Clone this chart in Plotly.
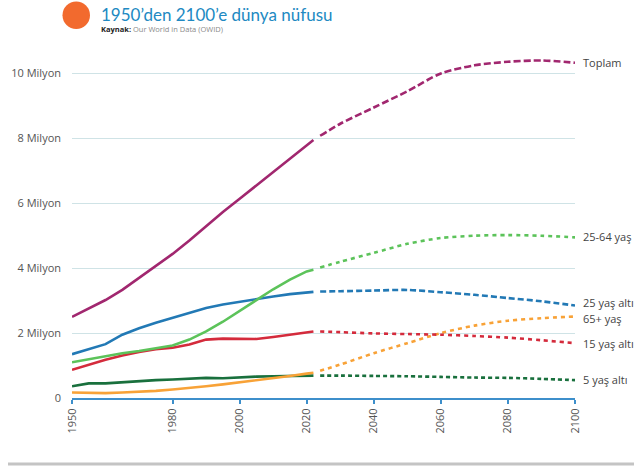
import plotly.graph_objects as go

# ---------------- data ----------------
hist_years = [1950, 1955, 1960, 1965, 1970, 1975, 1980, 1985, 1990, 1995,
              2000, 2005, 2010, 2015, 2020, 2022]
proj_years = [2024, 2030, 2040, 2050, 2060, 2070, 2080, 2090, 2100]

toplam_hist = [2.5, 2.75, 3.02, 3.33, 3.70, 4.07, 4.44, 4.85, 5.30, 5.73,
               6.14, 6.55, 6.96, 7.38, 7.80, 7.95]
toplam_proj = [8.08, 8.45, 8.95, 9.45, 10.0, 10.25, 10.36, 10.4, 10.33]

y2564_hist = [1.1, 1.2, 1.3, 1.38, 1.45, 1.53, 1.62, 1.8, 2.05, 2.35,
              2.68, 3.02, 3.35, 3.65, 3.9, 3.95]
y2564_proj = [4.02, 4.2, 4.47, 4.75, 4.93, 5.0, 5.02, 5.0, 4.95]

u25_hist = [1.35, 1.5, 1.66, 1.95, 2.15, 2.32, 2.47, 2.63, 2.77, 2.88,
            2.97, 3.05, 3.13, 3.2, 3.25, 3.27]
u25_proj = [3.28, 3.29, 3.31, 3.33, 3.26, 3.18, 3.08, 2.98, 2.85]

o65_hist = [0.17, 0.16, 0.15, 0.17, 0.19, 0.22, 0.26, 0.3, 0.36, 0.42,
            0.48, 0.54, 0.61, 0.68, 0.75, 0.78]
o65_proj = [0.84, 1.03, 1.38, 1.69, 2.0, 2.23, 2.38, 2.46, 2.51]

u15_hist = [0.87, 1.03, 1.18, 1.31, 1.42, 1.5, 1.55, 1.65, 1.8, 1.83,
            1.82, 1.82, 1.88, 1.96, 2.03, 2.05]
u15_proj = [2.05, 2.03, 1.99, 1.97, 1.95, 1.91, 1.86, 1.78, 1.69]

u5_hist = [0.36, 0.45, 0.45, 0.49, 0.53, 0.55, 0.57, 0.6, 0.62, 0.61,
           0.64, 0.66, 0.67, 0.68, 0.68, 0.69]
u5_proj = [0.69, 0.69, 0.68, 0.67, 0.65, 0.63, 0.62, 0.59, 0.55]

series_names = ["Toplam", "25-64 yaş", "25 yaş altı", "65+ yaş", "15 yaş altı", "5 yaş altı"]
hist_values = [toplam_hist, y2564_hist, u25_hist, o65_hist, u15_hist, u5_hist]
proj_values = [toplam_proj, y2564_proj, u25_proj, o65_proj, u15_proj, u5_proj]

x_tick_vals = [1950, 1980, 2000, 2020, 2040, 2060, 2080, 2100]
y_tick_vals = [0, 2, 4, 6, 8, 10]
y_tick_text = ["0", "2 Milyon", "4 Milyon", "6 Milyon", "8 Milyon", "10 Milyon"]

# ---------------- styles ----------------
colors = ["#a1276f", "#5cc35a", "#2279b5", "#f8a237", "#d42b3c", "#19703d"]
dashes = ["7px,3px", "4px,4px", "6px,3px", "4px,4px", "4px,4px", "4px,3px"]
label_shift = [0, 1, 3, -2, 0, 1]
font = "Open Sans, Lato, sans-serif"

W, H = 634, 467
# plot area in screen pixels: x 72..575, y 41..398
L = 72
R = W - 575
T = 41
B = H - 398
PW, PH = W - L - R, H - T - B


def px(x):
    return (x - L) / PW


def py(y):
    return (H - B - y) / PH


fig = go.Figure()
draw_order = [5, 3, 4, 2, 1, 0]
for i in draw_order:
    fig.add_trace(go.Scatter(x=hist_years, y=hist_values[i], mode="lines",
                             line=dict(color=colors[i], width=2.6),
                             hoverinfo="skip", showlegend=False))
    fig.add_trace(go.Scatter(x=proj_years, y=proj_values[i], mode="lines",
                             line=dict(color=colors[i], width=2.6, dash=dashes[i],
                                       shape="spline", smoothing=0.8),
                             hoverinfo="skip", showlegend=False))

annotations = []
for i, name in enumerate(series_names):
    annotations.append(dict(x=2100, y=proj_values[i][-1], xref="x", yref="y",
                            text=name, showarrow=False, xanchor="left",
                            yanchor="middle", xshift=6, yshift=label_shift[i],
                            font=dict(family=font, size=11, color="#444444")))

annotations.append(dict(x=px(99), y=py(14), xref="paper", yref="paper",
                        text="1950’den 2100’e dünya nüfusu", showarrow=False,
                        xanchor="left", yanchor="middle",
                        font=dict(family="Lato, Open Sans, sans-serif", size=17, color="#2189c2")))
annotations.append(dict(x=px(99), y=py(29.5), xref="paper", yref="paper",
                        text="<b>Kaynak:</b> <span style='color:#8a8a8a'>Our World in Data (OWID)</span>",
                        showarrow=False, xanchor="left", yanchor="middle",
                        font=dict(family=font, size=7.5, color="#222222")))

shapes = [
    dict(type="circle", xref="paper", yref="paper",
         x0=px(62.5), x1=px(90), y0=py(1.5), y1=py(29),
         fillcolor="#f26a2e", line=dict(width=0)),
    dict(type="line", xref="paper", yref="paper",
         x0=px(8), x1=px(640), y0=py(464), y1=py(464),
         line=dict(color="#c4c4c4", width=3)),
]

fig.update_layout(
    width=W, height=H,
    margin=dict(l=L, r=R, t=T, b=B),
    paper_bgcolor="white", plot_bgcolor="white",
    annotations=annotations, shapes=shapes,
    xaxis=dict(range=[1950, 2100], tickvals=x_tick_vals, tickangle=-90,
               ticks="outside", ticklen=4, tickwidth=1.5, tickcolor="#3d8fcb",
               showline=True, linecolor="#3d8fcb", linewidth=2,
               showgrid=False, zeroline=False,
               tickfont=dict(family=font, size=11, color="#555555")),
    yaxis=dict(range=[0, 11], tickvals=y_tick_vals, ticktext=y_tick_text,
               showgrid=True, gridcolor="#cfe3e6", gridwidth=1, zeroline=False,
               ticks="", ticklabelstandoff=10,
               tickfont=dict(family=font, size=11, color="#555555")),
)

fig.write_html("out.html",
               config={"displayModeBar": False},
               post_script="document.body.style.margin='0';document.body.style.padding='0';")
